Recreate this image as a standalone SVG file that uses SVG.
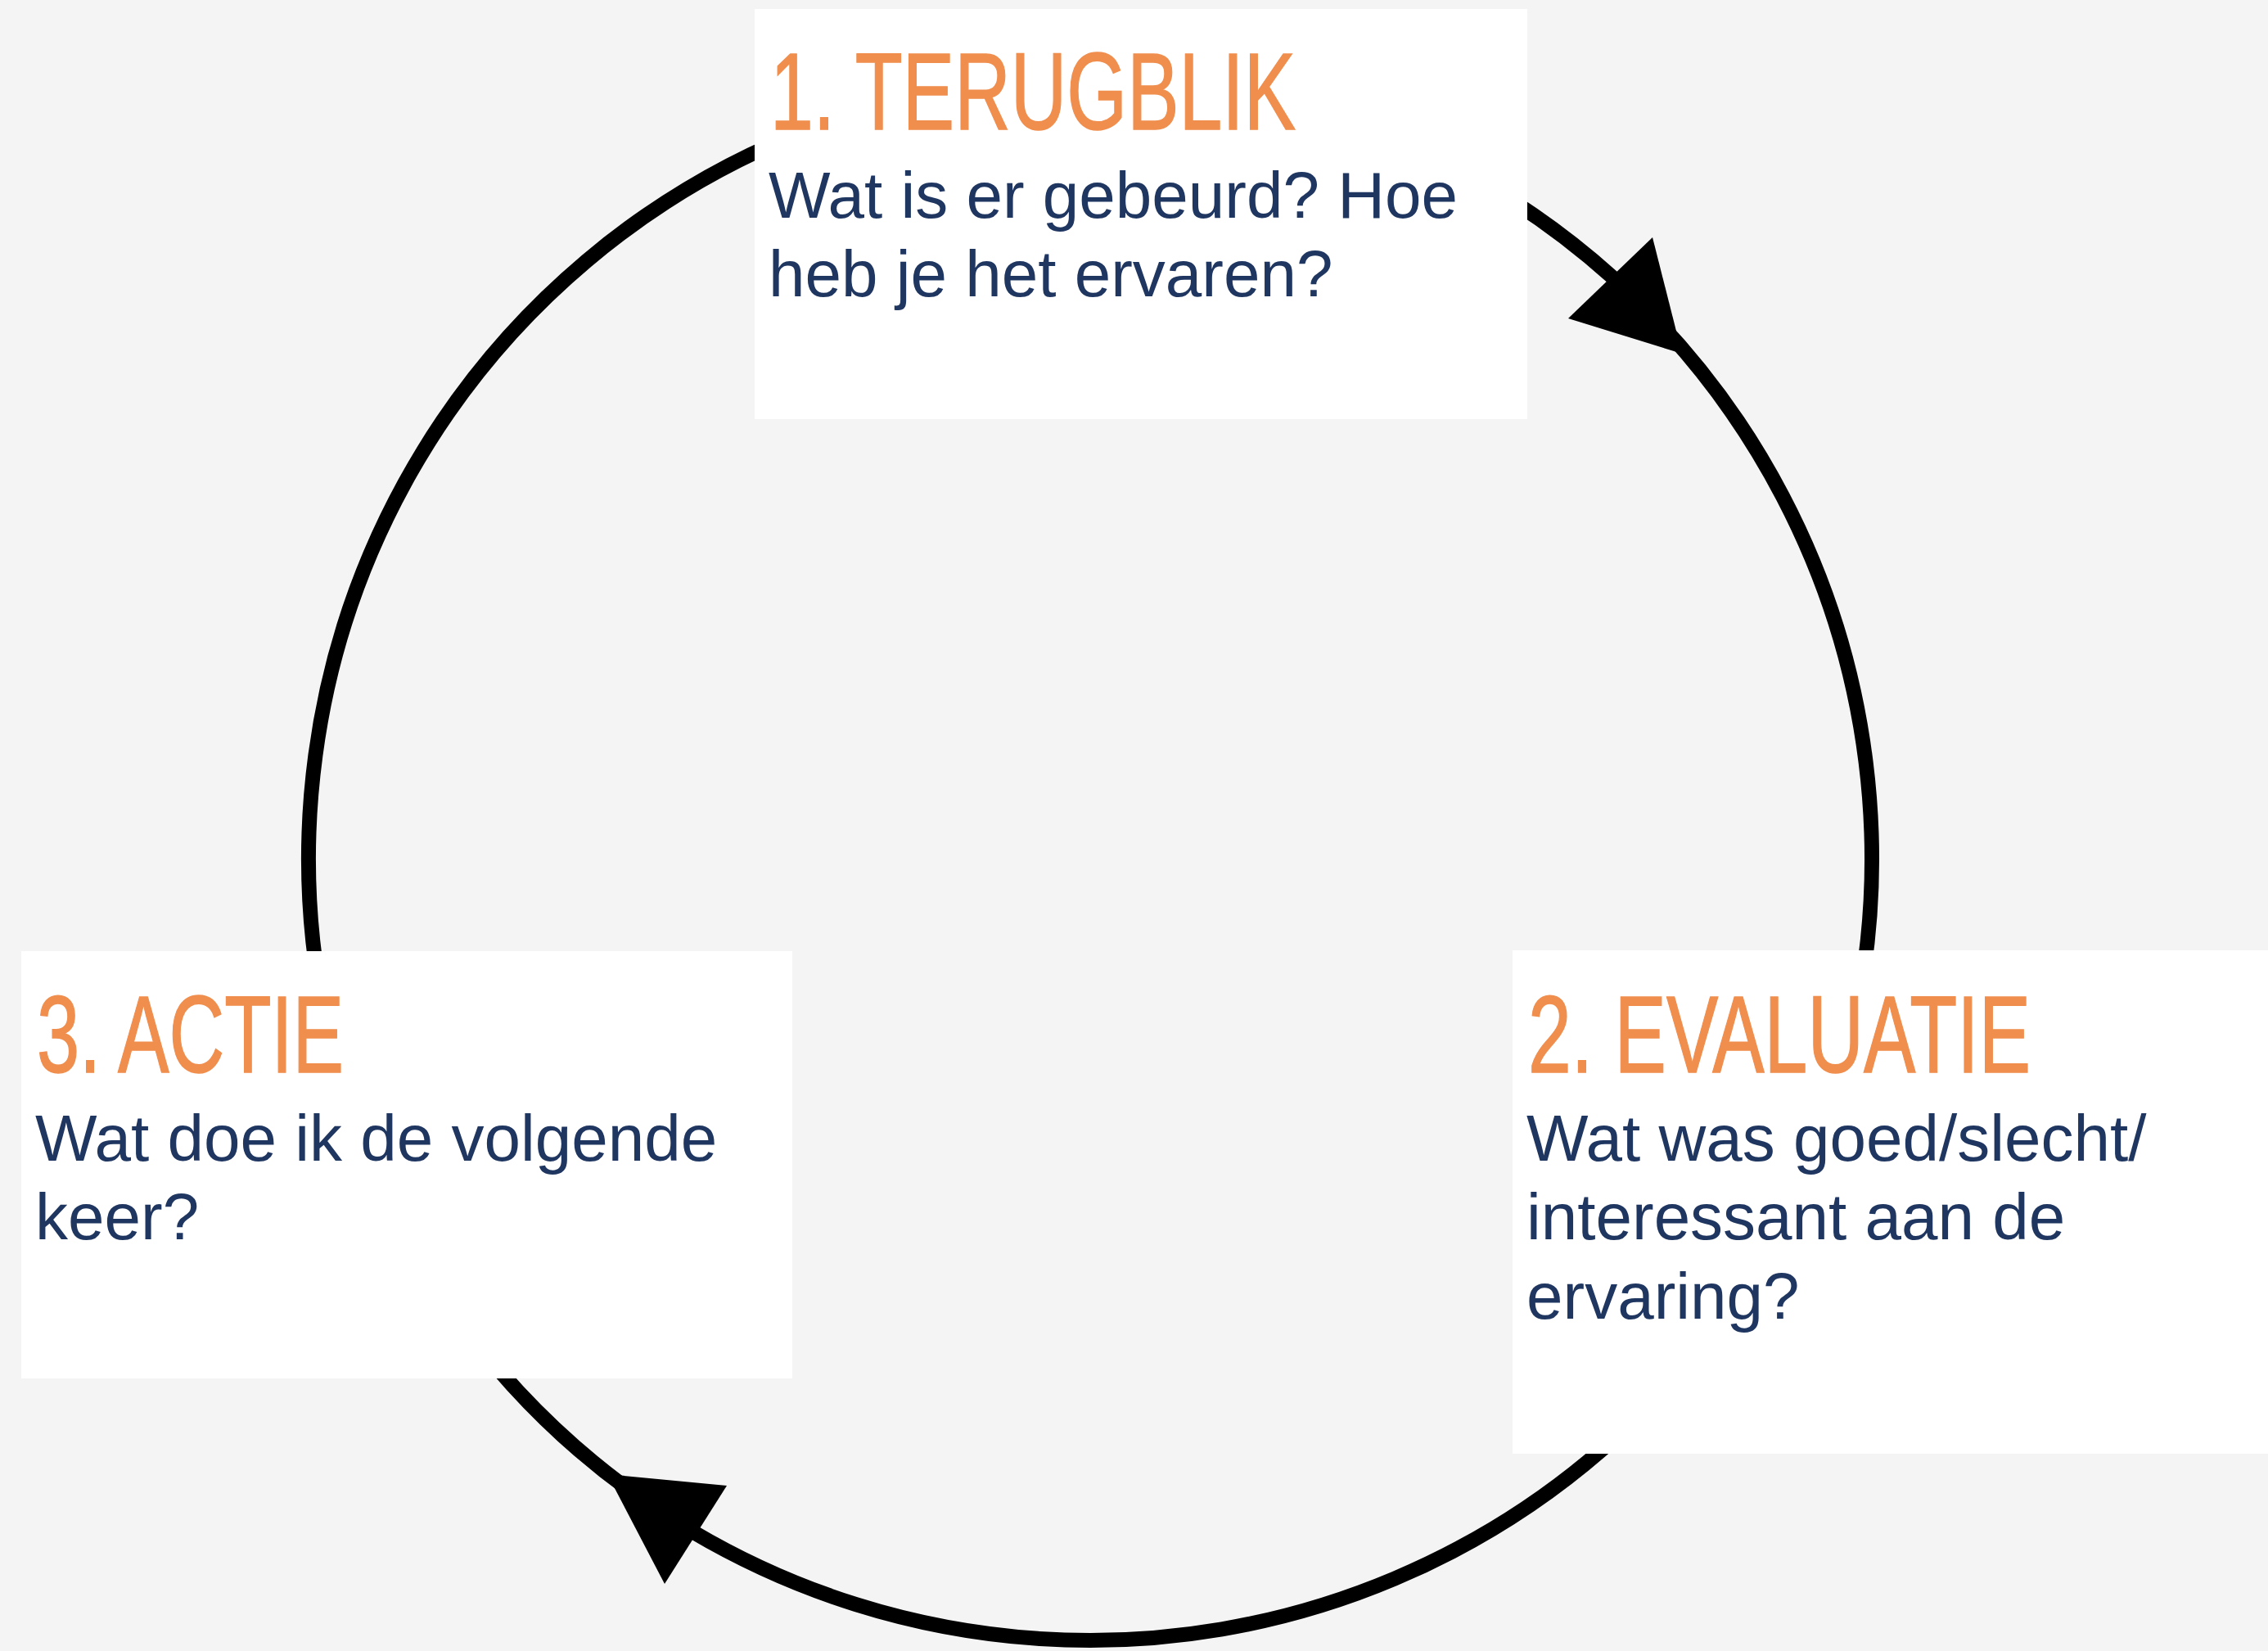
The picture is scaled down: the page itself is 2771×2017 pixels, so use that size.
<svg xmlns="http://www.w3.org/2000/svg" width="2771" height="2017" viewBox="0 0 2771 2017">
<style>
.bg{fill:#f4f4f4}
.box{fill:#ffffff}
.arc{fill:none;stroke:#000;stroke-width:18}
.head{fill:#000}
.title{font-family:"Liberation Sans",Arial,sans-serif;font-size:133px;fill:#f08e4e;stroke:#f08e4e;stroke-width:1.5}
.body{font-family:"Liberation Sans",Arial,sans-serif;font-size:80px;fill:#1f3660}
</style>
<rect class="bg" x="0" y="0" width="2771" height="2017"/>
<g id="connectors">
<path id="c1-2" class="arc" d="M1700,168 A955,955 0 0 1 2265.6,1250"/>
<path id="c2-3" class="arc" d="M2030.7,1700 A955,955 0 0 1 552,1600"/>
<path id="c3-1" class="arc" d="M398.4,1250 A955,955 0 0 1 1000,153.6"/>
<polygon class="head" points="2019,290 2055,432 1916,389"/>
<polygon class="head" points="742,1801 888,1815 812,1935"/>
</g>
<g id="node1">
<rect class="box" x="922" y="11" width="944" height="501"/>
<text class="title" x="941" y="158" textLength="642" lengthAdjust="spacingAndGlyphs">1. TERUGBLIK</text>
<text class="body" x="939" y="266">Wat is er gebeurd? Hoe</text>
<text class="body" x="939" y="362">heb je het ervaren?</text>
</g>
<g id="node2">
<rect class="box" x="1848" y="1161" width="923" height="615"/>
<text class="title" x="1867" y="1310" textLength="614" lengthAdjust="spacingAndGlyphs">2. EVALUATIE</text>
<text class="body" x="1865" y="1418">Wat was goed/slecht/</text>
<text class="body" x="1865" y="1514">interessant aan de</text>
<text class="body" x="1865" y="1611">ervaring?</text>
</g>
<g id="node3">
<rect class="box" x="26" y="1162" width="942" height="522"/>
<text class="title" x="45" y="1310" textLength="375" lengthAdjust="spacingAndGlyphs">3. ACTIE</text>
<text class="body" x="43" y="1418">Wat doe ik de volgende</text>
<text class="body" x="43" y="1514">keer?</text>
</g>
</svg>
